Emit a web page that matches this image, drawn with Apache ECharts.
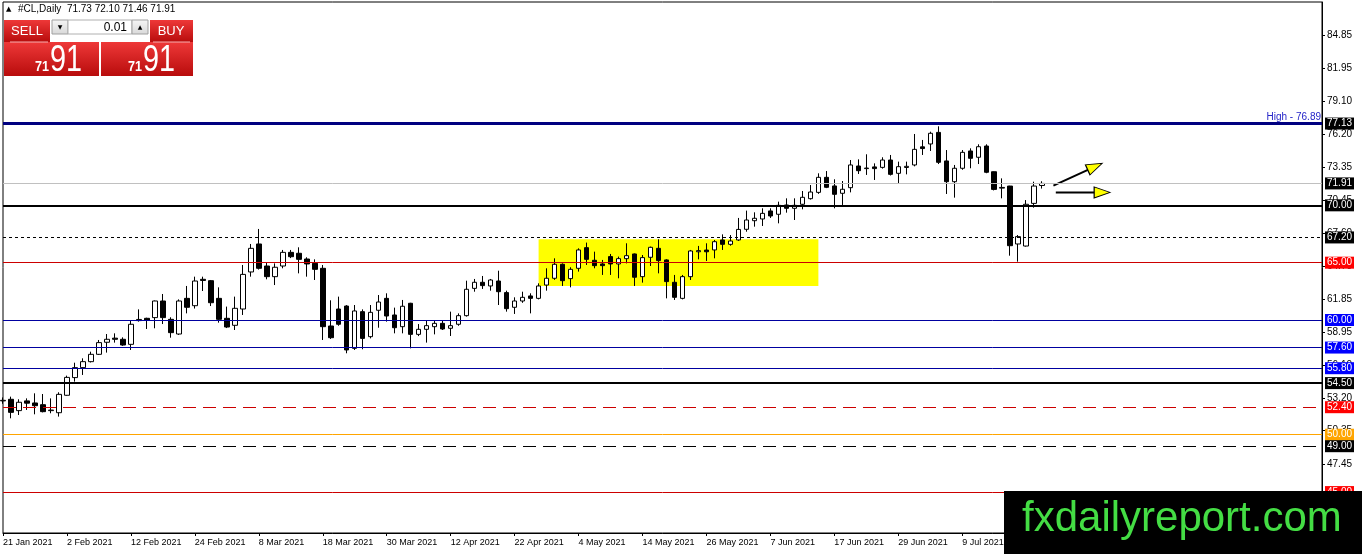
<!DOCTYPE html>
<html>
<head>
<meta charset="utf-8">
<script src="https://cdn.jsdelivr.net/npm/echarts@6/dist/echarts.min.js"></script>
<style>html,body{margin:0;padding:0;background:#fff;}</style>
</head>
<body>
<div id="main" style="width:1362px;height:554px;"></div>
<script type="text/javascript">
// daily bars, #CL (WTI crude)
var dates = [
  '21 Jan 2021','22 Jan 2021','25 Jan 2021','26 Jan 2021','27 Jan 2021','28 Jan 2021','29 Jan 2021',
  '1 Feb 2021','2 Feb 2021','3 Feb 2021','4 Feb 2021','5 Feb 2021','8 Feb 2021','9 Feb 2021','10 Feb 2021',
  '11 Feb 2021','12 Feb 2021','15 Feb 2021','16 Feb 2021','17 Feb 2021','18 Feb 2021','19 Feb 2021',
  '22 Feb 2021','23 Feb 2021','24 Feb 2021','25 Feb 2021','26 Feb 2021',
  '1 Mar 2021','2 Mar 2021','3 Mar 2021','4 Mar 2021','5 Mar 2021','8 Mar 2021','9 Mar 2021','10 Mar 2021',
  '11 Mar 2021','12 Mar 2021','15 Mar 2021','16 Mar 2021','17 Mar 2021','18 Mar 2021','19 Mar 2021',
  '22 Mar 2021','23 Mar 2021','24 Mar 2021','25 Mar 2021','26 Mar 2021','29 Mar 2021','30 Mar 2021','31 Mar 2021',
  '1 Apr 2021','5 Apr 2021','6 Apr 2021','7 Apr 2021','8 Apr 2021','9 Apr 2021','12 Apr 2021','13 Apr 2021',
  '14 Apr 2021','15 Apr 2021','16 Apr 2021','19 Apr 2021','20 Apr 2021','21 Apr 2021','22 Apr 2021',
  '23 Apr 2021','26 Apr 2021','27 Apr 2021','28 Apr 2021','29 Apr 2021','30 Apr 2021',
  '3 May 2021','4 May 2021','5 May 2021','6 May 2021','7 May 2021','10 May 2021','11 May 2021','12 May 2021',
  '13 May 2021','14 May 2021','17 May 2021','18 May 2021','19 May 2021','20 May 2021','21 May 2021',
  '24 May 2021','25 May 2021','26 May 2021','27 May 2021','28 May 2021','31 May 2021',
  '1 Jun 2021','2 Jun 2021','3 Jun 2021','4 Jun 2021','7 Jun 2021','8 Jun 2021','9 Jun 2021','10 Jun 2021',
  '11 Jun 2021','14 Jun 2021','15 Jun 2021','16 Jun 2021','17 Jun 2021','18 Jun 2021','21 Jun 2021',
  '22 Jun 2021','23 Jun 2021','24 Jun 2021','25 Jun 2021','28 Jun 2021','29 Jun 2021','30 Jun 2021',
  '1 Jul 2021','2 Jul 2021','5 Jul 2021','6 Jul 2021','7 Jul 2021','8 Jul 2021','9 Jul 2021','12 Jul 2021',
  '13 Jul 2021','14 Jul 2021','15 Jul 2021','16 Jul 2021','19 Jul 2021','20 Jul 2021','21 Jul 2021',
  '22 Jul 2021','23 Jul 2021'
];
var opens = [
  52.95,53.09,52.10,52.95,52.77,52.62,52.10,51.92,53.44,54.98,55.85,56.37,57.01,58.06,58.42,58.32,57.88,
  59.95,60.15,60.21,61.66,60.06,58.78,61.89,61.25,63.55,63.43,61.89,60.15,59.54,60.96,64.19,66.63,64.71,
  63.78,64.71,65.90,65.82,65.32,64.94,64.51,59.48,60.96,61.22,57.53,60.73,58.55,60.85,61.89,60.44,59.42,
  61.46,58.75,59.19,59.42,59.71,59.28,59.63,60.38,62.76,63.29,62.97,63.40,62.39,61.11,61.66,62.10,61.89,
  63.05,63.64,64.86,63.61,64.51,66.31,65.21,64.89,65.53,64.89,65.35,65.76,63.78,65.47,66.25,65.24,63.29,
  61.89,63.78,65.95,66.10,66.11,66.98,66.60,66.98,67.91,68.66,68.81,69.51,69.22,70.03,69.74,70.09,70.58,
  71.13,72.44,71.69,71.05,71.54,73.43,73.20,73.35,73.31,73.95,72.79,73.30,73.52,75.10,75.35,76.36,73.87,
  72.06,73.23,74.74,74.19,75.17,72.93,71.50,71.68,66.63,66.45,70.17,71.73
];
var highs = [
  53.25,53.32,53.09,53.17,53.61,53.55,53.17,53.70,55.15,56.28,56.66,57.24,58.26,58.78,58.84,58.49,60.00,
  60.93,60.20,61.70,62.27,60.24,61.80,62.97,63.78,63.78,63.49,62.85,61.17,62.04,64.80,66.63,67.94,65.00,
  64.94,66.11,66.11,66.34,65.47,65.29,64.80,61.72,62.04,61.30,61.31,60.93,61.31,62.18,62.33,61.08,61.75,
  61.50,59.65,60.00,60.00,60.00,60.73,60.58,63.43,63.58,63.84,63.58,64.30,62.56,61.98,62.47,62.33,63.20,
  64.51,65.38,64.94,64.60,66.25,66.75,65.96,65.24,65.76,65.53,66.69,65.80,65.67,66.40,67.04,65.30,63.93,
  63.93,66.11,66.46,66.69,66.98,67.47,67.41,68.90,69.54,69.39,69.74,69.74,70.32,70.61,70.61,71.25,71.77,
  72.79,72.99,72.27,72.12,73.95,74.01,74.45,73.66,74.19,74.39,73.81,73.81,76.22,75.70,76.42,76.89,74.82,
  73.52,74.82,74.97,75.32,75.32,72.95,72.35,71.70,67.41,70.46,72.06,72.10
];
var lows = [
  52.70,51.43,51.72,52.16,51.78,51.95,51.87,51.58,53.40,54.63,55.21,56.30,56.95,57.16,58.03,57.75,57.39,
  59.86,59.22,59.28,59.65,58.46,58.70,60.58,61.00,62.53,61.22,59.77,59.30,59.13,60.44,63.78,64.40,63.55,
  63.05,64.51,65.40,64.07,63.78,63.49,58.26,58.35,59.50,57.10,57.39,57.45,58.40,59.33,59.86,58.84,58.84,
  57.53,58.60,58.03,58.75,59.13,58.61,59.50,60.30,62.47,62.71,62.56,61.31,60.73,60.53,61.50,60.58,61.80,
  62.56,63.50,62.97,62.85,64.22,64.80,64.51,63.93,63.93,63.64,64.94,62.97,63.26,64.71,64.07,61.89,61.75,
  61.80,63.49,65.29,65.15,65.38,66.11,66.48,66.90,67.70,68.14,68.20,68.90,68.43,69.36,68.72,69.65,70.50,
  71.00,71.50,69.74,70.03,71.13,72.73,72.65,72.21,73.20,72.60,71.92,72.70,73.40,74.39,74.74,73.60,70.99,
  70.67,73.10,73.23,73.60,72.80,71.30,70.61,65.61,65.09,66.40,69.80,71.46
];
var closes = [
  53.00,51.95,52.83,52.75,52.53,52.01,52.15,53.52,55.00,55.85,56.37,57.01,58.03,58.32,58.32,57.82,59.63,
  60.05,60.00,61.66,60.21,58.90,61.66,61.11,63.40,63.45,61.51,60.06,59.39,61.02,63.98,66.25,64.51,63.78,
  64.60,65.90,65.52,65.29,64.89,64.42,59.42,58.46,59.63,57.39,60.79,58.40,60.67,61.57,60.35,59.33,61.20,
  58.75,59.19,59.51,59.71,59.22,59.51,60.38,62.68,63.29,63.00,63.49,62.47,60.99,61.66,61.98,61.89,62.97,
  63.64,64.86,63.43,64.42,66.11,65.29,64.74,64.74,64.89,65.35,65.61,63.73,65.44,66.34,65.18,63.35,61.98,
  63.78,66.02,66.05,65.95,66.83,66.60,66.89,67.90,68.72,68.87,69.30,69.07,70.00,69.74,70.00,70.70,71.16,
  72.44,71.57,70.96,71.40,73.52,73.02,73.25,73.20,73.95,72.70,73.37,73.40,74.88,74.95,76.28,73.75,72.06,
  73.23,74.62,74.10,75.11,72.88,71.39,71.56,66.48,67.27,70.09,71.68,71.91
];
var futureBars = 35;   // empty space MT4 leaves right of the last bar

var priceTicks = [84.85, 81.95, 79.10, 76.20, 73.35, 70.45, 67.60, 64.70, 61.85, 58.95, 56.10, 53.20, 50.35, 47.45, 44.60];
var levelPrices = [77.13, 71.91, 70.00, 67.20, 65.00, 60.00, 57.60, 55.80, 54.50, 52.40, 50.00, 49.00, 45.00];
var highText = 'High - 76.89';
// yellow consolidation box: bar from, bar to, price low, price high
var zoneBars = [67, 102];
var zonePrices = [62.97, 67.05];
// arrows: [bar, price] start -> head
var arrowUp = [[131.4, 71.71], [136.6, 73.38]];
var arrowFlat = [[131.7, 71.12], [137.5, 71.12]];

var levelStyles = [
  { color: '#000080', width: 3, type: 'solid', box: '#000000' },
  { color: '#c0c0c0', width: 1, type: 'solid', box: '#000000' },
  { color: '#000000', width: 2, type: 'solid', box: '#000000' },
  { color: '#000000', width: 1, type: [3, 3], box: '#000000' },
  { color: '#cc0000', width: 1, type: 'solid', box: '#ff0000' },
  { color: '#0000a0', width: 1, type: 'solid', box: '#0000ff' },
  { color: '#0000a0', width: 1, type: 'solid', box: '#0000ff' },
  { color: '#0000a0', width: 1, type: 'solid', box: '#0000ff' },
  { color: '#000000', width: 2, type: 'solid', box: '#000000' },
  { color: '#cc0000', width: 1, type: [13, 7], box: '#ff0000' },
  { color: '#ffa500', width: 1, type: 'solid', box: '#ffa500' },
  { color: '#000000', width: 1, type: [13, 7], box: '#000000' },
  { color: '#cc0000', width: 1, type: 'solid', box: '#ff0000' }
];

var FONT = '"Liberation Sans", Arial, sans-serif';
var myChart = echarts.init(document.getElementById('main'));

var categories = dates.slice();
for (var k = 0; k < futureBars; k++) categories.push('');
var ohlc = [];
for (var i = 0; i < dates.length; i++) {
  ohlc.push([opens[i], closes[i], lows[i], highs[i]]);
}
var last = dates.length - 1;

var levelLines = levelPrices.map(function (p, i) {
  var s = levelStyles[i];
  return {
    yAxis: p,
    lineStyle: { color: s.color, width: s.width, type: s.type },
    label: {
      show: true, position: 'end', distance: 3,
      formatter: p.toFixed(2), color: '#fff', backgroundColor: s.box,
      padding: [1, 2, 0, 2], fontSize: 10, lineHeight: 11, fontFamily: FONT
    }
  };
});
levelLines.push({
  yAxis: levelPrices[0],
  lineStyle: { color: 'rgba(0,0,0,0)', width: 0 },
  label: {
    show: true, position: 'insideEndTop', distance: 1,
    formatter: highText, color: '#2424c8', fontSize: 10, fontFamily: FONT
  }
});

function redFill() {
  return new echarts.graphic.LinearGradient(0, 0, 0, 1, [
    { offset: 0, color: '#ee3838' }, { offset: 1, color: '#b80c0c' }
  ]);
}
function greyFill() {
  return new echarts.graphic.LinearGradient(0, 0, 0, 1, [
    { offset: 0, color: '#f6f6f6' }, { offset: 1, color: '#d8d8d8' }
  ]);
}
var bidInt = String(Math.floor(closes[last]));
var bidFrac = closes[last].toFixed(2).split('.')[1];

option = {
  animation: false,
  backgroundColor: '#ffffff',
  grid: { left: 3, right: 40, top: 2, bottom: 21, show: true, borderColor: '#000', borderWidth: 1 },
  xAxis: [{
    type: 'category',
    data: categories,
    boundaryGap: false,
    axisLine: { onZero: false, lineStyle: { color: '#000' } },
    axisTick: { interval: 7, length: 3, lineStyle: { color: '#000' } },
    axisLabel: { interval: 7, align: 'left', margin: 5, color: '#000', fontSize: 9, fontFamily: FONT },
    splitLine: { show: false }
  }, {
    type: 'value', min: 0, max: categories.length - 1, show: false,
    axisLine: { onZero: false }
  }],
  yAxis: {
    type: 'value',
    position: 'right',
    min: 41.432,
    max: 87.727,
    axisLine: { show: true, onZero: false, lineStyle: { color: '#000' } },
    axisTick: { show: true, length: 3, customValues: priceTicks, lineStyle: { color: '#000' } },
    axisLabel: {
      customValues: priceTicks, margin: 5, color: '#000', fontSize: 10, fontFamily: FONT,
      formatter: function (v) { return v.toFixed(2); }
    },
    splitLine: { show: false }
  },
  series: [
    {
      name: 'zone',
      type: 'line',
      xAxisIndex: 1,
      data: [],
      z: 1,
      markArea: {
        silent: true,
        itemStyle: { color: '#ffff00' },
        data: [[{ xAxis: zoneBars[0], yAxis: zonePrices[1] }, { xAxis: zoneBars[1], yAxis: zonePrices[0] }]]
      }
    },
    {
      name: '#CL,Daily',
      type: 'candlestick',
      data: ohlc,
      z: 3,
      barWidth: 5,
      itemStyle: {
        color: '#ffffff', color0: '#000000',
        borderColor: '#000000', borderColor0: '#000000', borderWidth: 1
      },
      markLine: {
        silent: true,
        symbol: ['none', 'none'],
        animation: false,
        data: levelLines
      }
    },
    {
      type: 'line', xAxisIndex: 1, data: arrowUp, symbol: 'none', z: 4,
      lineStyle: { color: '#000', width: 2 }
    },
    {
      type: 'line', xAxisIndex: 1, data: arrowFlat, symbol: 'none', z: 4,
      lineStyle: { color: '#000', width: 2 }
    },
    {
      type: 'scatter', xAxisIndex: 1, z: 5,
      data: [arrowUp[1]], symbol: 'triangle', symbolSize: [11, 16], symbolRotate: -65.6,
      itemStyle: { color: '#ffff00', borderColor: '#000', borderWidth: 1, opacity: 1 }
    },
    {
      type: 'scatter', xAxisIndex: 1, z: 5,
      data: [arrowFlat[1]], symbol: 'triangle', symbolSize: [11, 16], symbolRotate: -90,
      itemStyle: { color: '#ffff00', borderColor: '#000', borderWidth: 1, opacity: 1 }
    }
  ],
  graphic: [
    // chart caption
    { type: 'text', x: 6, y: 9, z: 100, style: { text: '▲', font: '7px "DejaVu Sans"', fill: '#000', verticalAlign: 'middle' } },
    { type: 'text', x: 18, y: 9, z: 100, style: {
      text: '#CL,Daily  ' + [opens[last], highs[last], lows[last], closes[last]].map(function (v) { return v.toFixed(2); }).join(' '),
      font: '10px ' + FONT, fill: '#000', verticalAlign: 'middle' } },
    // one-click trading panel
    { type: 'rect', z: 100, shape: { x: 4, y: 20, width: 46, height: 22 }, style: { fill: redFill() } },
    { type: 'rect', z: 100, shape: { x: 150, y: 20, width: 43, height: 22 }, style: { fill: redFill() } },
    { type: 'rect', z: 100, shape: { x: 4, y: 42, width: 95, height: 34 }, style: { fill: redFill() } },
    { type: 'rect', z: 100, shape: { x: 101, y: 42, width: 92, height: 34 }, style: { fill: redFill() } },
    { type: 'line', z: 101, shape: { x1: 10, y1: 42, x2: 48, y2: 42 }, style: { stroke: '#f5b0b0', lineWidth: 1 } },
    { type: 'line', z: 101, shape: { x1: 153, y1: 42, x2: 190, y2: 42 }, style: { stroke: '#f5b0b0', lineWidth: 1 } },
    { type: 'text', x: 27, y: 31, z: 101, style: { text: 'SELL', font: '13px ' + FONT, fill: '#fff', align: 'center', verticalAlign: 'middle' } },
    { type: 'text', x: 171, y: 31, z: 101, style: { text: 'BUY', font: '13px ' + FONT, fill: '#fff', align: 'center', verticalAlign: 'middle' } },
    { type: 'rect', z: 100, shape: { x: 52, y: 20, width: 16, height: 14 }, style: { fill: greyFill(), stroke: '#a0a0a0', lineWidth: 1 } },
    { type: 'rect', z: 100, shape: { x: 68, y: 20, width: 64, height: 14 }, style: { fill: '#fff', stroke: '#b0b0b0', lineWidth: 1 } },
    { type: 'rect', z: 100, shape: { x: 132, y: 20, width: 16, height: 14 }, style: { fill: greyFill(), stroke: '#a0a0a0', lineWidth: 1 } },
    { type: 'text', x: 60, y: 27, z: 101, style: { text: '▼', font: '6px "DejaVu Sans"', fill: '#000', align: 'center', verticalAlign: 'middle' } },
    { type: 'text', x: 140, y: 27, z: 101, style: { text: '▲', font: '6px "DejaVu Sans"', fill: '#000', align: 'center', verticalAlign: 'middle' } },
    { type: 'text', x: 127, y: 28, z: 101, style: { text: '0.01', font: '12px ' + FONT, fill: '#000', align: 'right', verticalAlign: 'middle' } },
    { type: 'text', x: 35, y: 67, z: 101, scaleX: 0.9, style: { text: bidInt, font: 'bold 14px ' + FONT, fill: '#fff', verticalAlign: 'middle' } },
    { type: 'text', x: 50, y: 61, z: 101, scaleX: 0.8, style: { text: bidFrac, font: '36px ' + FONT, fill: '#fff', verticalAlign: 'middle' } },
    { type: 'text', x: 128, y: 67, z: 101, scaleX: 0.9, style: { text: bidInt, font: 'bold 14px ' + FONT, fill: '#fff', verticalAlign: 'middle' } },
    { type: 'text', x: 143, y: 61, z: 101, scaleX: 0.8, style: { text: bidFrac, font: '36px ' + FONT, fill: '#fff', verticalAlign: 'middle' } },
    // watermark
    { type: 'rect', z: 110, shape: { x: 1004, y: 491, width: 358, height: 63 }, style: { fill: '#000' } },
    { type: 'text', x: 1022, y: 519, z: 111, style: { text: 'fxdailyreport.com', font: '42px ' + FONT, fill: '#44dd44', verticalAlign: 'middle' } }
  ]
};

myChart.setOption(option);
</script>
</body>
</html>
